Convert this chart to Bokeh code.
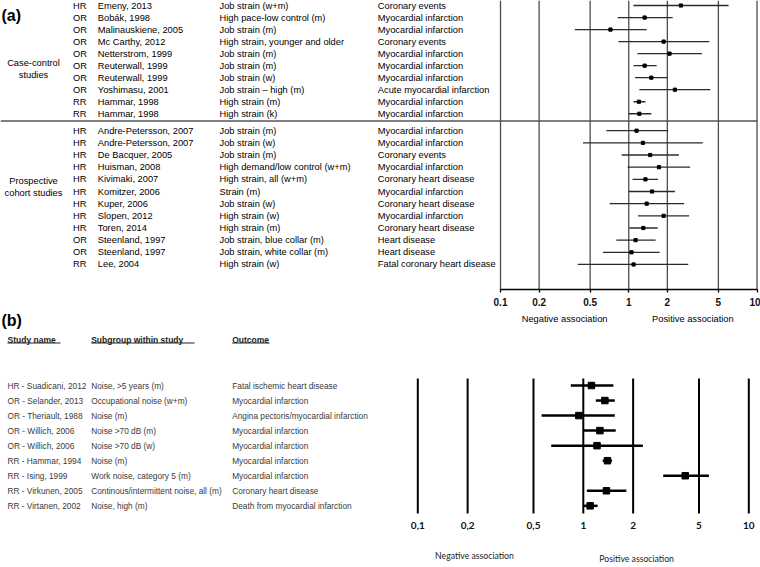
import math
from bokeh.plotting import figure
from bokeh.models import Range1d, LogScale, LogAxis, FixedTicker, ColumnDataSource
from bokeh.core.properties import value
from bokeh.embed import file_html
from bokeh.resources import INLINE

# ---------------- Panel (a) data ----------------
a_types = ["HR", "OR", "OR", "OR", "OR", "OR", "OR", "OR", "RR", "RR",
           "HR", "HR", "HR", "HR", "HR", "HR", "HR", "HR", "HR", "OR", "OR", "RR"]
a_studies = ["Emeny, 2013", "Bobák, 1998", "Malinauskiene, 2005", "Mc Carthy, 2012",
             "Netterstrom, 1999", "Reuterwall, 1999", "Reuterwall, 1999", "Yoshimasu, 2001",
             "Hammar, 1998", "Hammar, 1998",
             "Andre-Petersson, 2007", "Andre-Petersson, 2007", "De Bacquer, 2005",
             "Huisman, 2008", "Kivimaki, 2007", "Komitzer, 2006", "Kuper, 2006",
             "Slopen, 2012", "Toren, 2014", "Steenland, 1997", "Steenland, 1997", "Lee, 2004"]
a_subgroups = ["Job strain (w+m)", "High pace-low control (m)", "Job strain (m)",
               "High strain, younger and older", "Job strain (m)", "Job strain (m)",
               "Job strain (w)", "Job strain \u2013 high (m)", "High strain (m)", "High strain (k)",
               "Job strain (m)", "Job strain (w)", "Job strain (m)",
               "High demand/low control (w+m)", "High strain, all  (w+m)", "Strain (m)",
               "Job strain (w)", "High strain (w)", "High strain (m)",
               "Job strain, blue collar (m)", "Job strain, white collar (m)", "High strain (w)"]
a_outcomes = ["Coronary events", "Myocardial infarction", "Myocardial infarction",
              "Coronary events", "Myocardial infarction", "Myocardial infarction",
              "Myocardial infarction", "Acute myocardial infarction", "Myocardial infarction",
              "Myocardial infarction",
              "Myocardial infarction", "Myocardial infarction", "Coronary events",
              "Myocardial infarction", "Coronary heart disease", "Myocardial infarction",
              "Coronary heart disease", "Myocardial infarction", "Coronary heart disease",
              "Heart disease", "Heart disease", "Fatal coronary heart disease"]
a_est = [2.55, 1.33, 0.72, 1.87, 2.08, 1.33, 1.50, 2.29, 1.20, 1.21,
         1.15, 1.29, 1.47, 1.72, 1.35, 1.52, 1.38, 1.87, 1.30, 1.13, 1.05, 1.09]
a_lo = [1.09, 0.82, 0.38, 0.83, 1.17, 1.09, 1.12, 1.21, 1.09, 1.00,
        0.67, 0.44, 0.88, 0.98, 1.07, 1.00, 0.71, 1.18, 1.01, 0.80, 0.63, 0.40]
a_hi = [6.00, 2.20, 1.38, 4.24, 3.72, 1.65, 2.00, 4.32, 1.35, 1.50,
        2.03, 3.78, 2.46, 3.01, 1.69, 2.29, 2.70, 2.96, 1.68, 1.62, 1.74, 2.91]
a_group_labels = [("Case-control", "studies"), ("Prospective", "cohort studies")]
a_group_sizes = [10, 12]
a_ticks = [0.1, 0.2, 0.5, 1, 2, 5, 10]
a_tick_labels = ["0.1", "0.2", "0.5", "1", "2", "5", "10"]
a_assoc = ["Negative association", "Positive association"]

# ---------------- Panel (b) data ----------------
b_studies = ["HR - Suadicani, 2012", "OR - Selander, 2013", "OR - Theriault, 1988",
             "OR - Willich, 2006", "OR - Willich, 2006", "RR - Hammar, 1994",
             "RR - Ising, 1999", "RR - Virkunen, 2005", "RR - Virtanen, 2002"]
b_subgroups = ["Noise, >5 years (m)", "Occupational noise (w+m)", "Noise (m)",
               "Noise >70 dB (m)", "Noise >70 dB (w)", "Noise (m)",
               "Work noise, category 5 (m)", "Continous/intermittent noise, all (m)",
               "Noise, high (m)"]
b_outcomes = ["Fatal ischemic heart disease", "Myocardial infarction",
              "Angina pectoris/myocardial infarction", "Myocardial infarction",
              "Myocardial infarction", "Myocardial infarction", "Myocardial infarction",
              "Coronary heart disease", "Death from myocardial infarction"]
b_est = [1.12, 1.35, 0.94, 1.26, 1.21, 1.40, 4.13, 1.38, 1.10]
b_lo = [0.84, 1.19, 0.56, 1.00, 0.64, 1.31, 3.04, 1.05, 1.00]
b_hi = [1.52, 1.55, 1.55, 1.57, 2.29, 1.49, 5.74, 1.82, 1.22]
b_headers = ["Study name", "Subgroup within study", "Outcome"]
b_ticks = [0.1, 0.2, 0.5, 1, 2, 5, 10]
b_tick_labels = ["0,1", "0,2", "0,5", "1", "2", "5", "10"]
b_assoc = ["Negative association", "Positive association"]

# ---------------- Figure in page-pixel coordinates ----------------
W, H = 760, 567
p = figure(width=W, height=H, x_range=Range1d(0, W), y_range=Range1d(H, 0),
           output_backend="svg", toolbar_location=None, min_border=0,
           x_axis_type=None, y_axis_type=None, outline_line_color=None,
           background_fill_color="white", border_fill_color="white")

# log scales for the two forest plots (0.1 .. 10)
A_X0, A_X1 = 500.0, 756.5   # columns of 0.1 and 10 in panel a
B_X0, B_X1 = 417.3, 748.3   # panel b
def log_range(x0, x1):
    dec = (x1 - x0) / 2.0
    return Range1d(10 ** (-1 - x0 / dec), 10 ** (-1 + (W - x0) / dec))
p.extra_x_ranges = {"la": log_range(A_X0, A_X1), "lb": log_range(B_X0, B_X1)}
p.extra_x_scales = {"la": LogScale(), "lb": LogScale()}

ARIAL_NAME = "Liberation Sans"
LATO_NAME = "Lato"
ARIAL = value(ARIAL_NAME)
LATO = value(LATO_NAME)

# ---------- Panel (a) layout ----------
starts = [5.0, 130.2]
steps = [12.03, 12.16]
a_y = []
for g, n in enumerate(a_group_sizes):
    for j in range(n):
        a_y.append(starts[g] + steps[g] * j)
a_axis_y = 289
a_top = 0

src_a = ColumnDataSource(dict(y=a_y, t=a_types, s=a_studies, sg=a_subgroups, o=a_outcomes,
                              est=a_est, lo=a_lo, hi=a_hi))
for col, x in [("t", 72.5), ("s", 97.3), ("sg", 219), ("o", 377.3)]:
    p.text(x=x, y="y", text=col, source=src_a, text_font=ARIAL, text_font_size="9.3px",
           text_baseline="middle", text_align="left", text_color="black")

# group labels
group_centres = [68, 186.5]
for (l1, l2), yc in zip(a_group_labels, group_centres):
    p.text(x=[33, 33], y=[yc - 6, yc + 6], text=[l1, l2], text_font=ARIAL,
           text_font_size="9.3px", text_baseline="middle", text_align="center",
           text_color="black")

# separator
p.segment(x0=[0], y0=[120.5], x1=[757], y1=[120.5], line_color="#555555", line_width=1.5)

# reference lines
p.segment(x0=a_ticks, y0=[a_top] * len(a_ticks), x1=a_ticks, y1=[a_axis_y] * len(a_ticks),
          x_range_name="la", line_color="#4d4d4d", line_width=1.3)

# CIs and estimates
p.segment(x0="lo", y0="y", x1="hi", y1="y", source=src_a, x_range_name="la",
          line_color="#2a2a2a", line_width=1.3)
p.scatter(x="est", y="y", source=src_a, x_range_name="la", marker="square", size=3.2,
          fill_color="black", line_color="black")

ax_a = LogAxis(x_range_name="la", fixed_location=a_axis_y, bounds=(0.1, 10),
               ticker=FixedTicker(ticks=a_ticks, minor_ticks=[]),
               major_label_overrides={t: l for t, l in zip(a_ticks, a_tick_labels)},
               axis_line_color="black", axis_line_width=1.3,
               major_tick_line_color="black", major_tick_line_width=1.3,
               major_tick_out=3, major_tick_in=0, minor_tick_out=0, minor_tick_in=0,
               major_label_standoff=5, major_label_text_font=ARIAL_NAME,
               major_label_text_font_size="10px", major_label_text_font_style="bold",
               major_label_text_color="#111111")
p.add_layout(ax_a, "below")

p.text(x=[math.sqrt(0.1 * 1), math.sqrt(1 * 10)], y=[318, 318], text=a_assoc,
       x_range_name="la", text_font=ARIAL, text_font_size="9.3px", text_baseline="middle",
       text_align="center", text_color="black")

p.text(x=[1], y=[14.5], text=["(a)"], text_font=ARIAL, text_font_size="16px",
       text_font_style="bold", text_baseline="middle", text_align="left", text_color="black")

# ---------- Panel (b) layout ----------
b_row_h = 15.04
b_y = [385 + b_row_h * i for i in range(len(b_est))]
b_top, b_bot = 378, 513

p.text(x=[1], y=[320], text=["(b)"], text_font=ARIAL, text_font_size="16px",
       text_font_style="bold", text_baseline="middle", text_align="left", text_color="black")

hx = [7, 90.7, 231.7]
hx_end = [60, 194, 269]
p.text(x=hx, y=[339.3] * 3, text=b_headers, text_font=ARIAL, text_font_size="8.5px",
       text_font_style="bold", text_baseline="alphabetic", text_align="left",
       text_color="#222222")
p.segment(x0=hx, y0=[342.5] * 3, x1=hx_end, y1=[342.5] * 3, line_color="#222222",
          line_width=1)

src_b = ColumnDataSource(dict(y=b_y, s=b_studies, sg=b_subgroups, o=b_outcomes,
                              est=b_est, lo=b_lo, hi=b_hi))
for col, x in [("s", 7), ("sg", 90.7), ("o", 231.7)]:
    p.text(x=x, y="y", text=col, source=src_b, text_font=ARIAL, text_font_size="8.3px",
           text_baseline="middle", text_align="left", text_color="#3a3a3a")

p.segment(x0=b_ticks, y0=[b_top] * len(b_ticks), x1=b_ticks, y1=[b_bot] * len(b_ticks),
          x_range_name="lb", line_color="black", line_width=2)
p.segment(x0="lo", y0="y", x1="hi", y1="y", source=src_b, x_range_name="lb",
          line_color="black", line_width=2.5)
p.scatter(x="est", y="y", source=src_b, x_range_name="lb", marker="square", size=6.5,
          fill_color="black", line_color="black")

ax_b = LogAxis(x_range_name="lb", fixed_location=b_bot, bounds=(0.1, 10),
               ticker=FixedTicker(ticks=b_ticks, minor_ticks=[]),
               major_label_overrides={t: l for t, l in zip(b_ticks, b_tick_labels)},
               axis_line_color=None, major_tick_line_color=None, minor_tick_line_color=None,
               major_tick_out=0, major_tick_in=0, minor_tick_out=0, minor_tick_in=0,
               major_label_standoff=8, major_label_text_font=LATO_NAME,
               major_label_text_font_size="10px", major_label_text_font_style="bold",
               major_label_text_color="#111111")
p.add_layout(ax_b, "below")

p.text(x=[0.22, 2.1], y=[555, 557.7], text=b_assoc, x_range_name="lb", text_font=LATO,
       text_font_size="8.7px", text_baseline="middle", text_align="center",
       text_color="#222222")

open("out.html", "w").write(file_html(p, INLINE))
